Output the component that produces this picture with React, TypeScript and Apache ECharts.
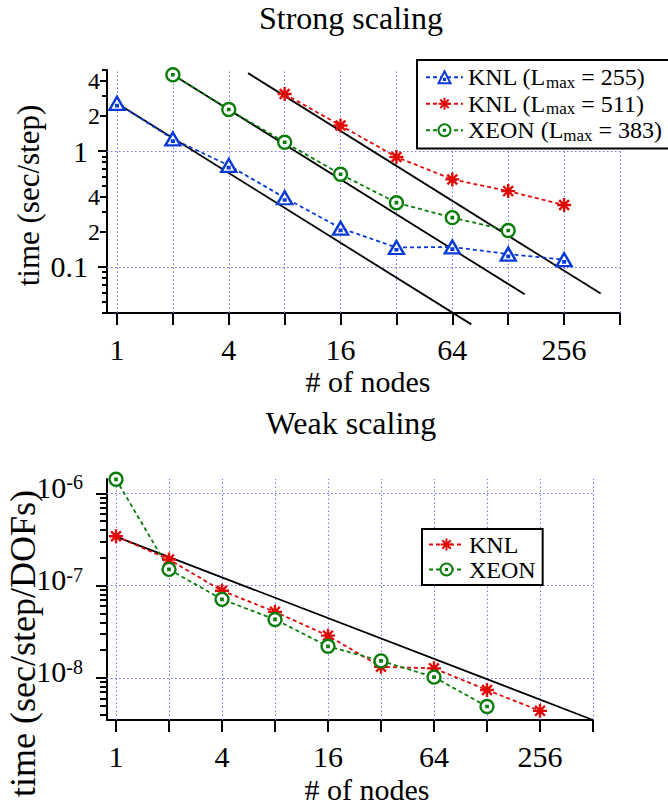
import React, { useEffect, useRef } from "react";
import * as echarts from "echarts";

// ---------- data ----------
const strongNodesKnl255 = [1, 2, 4, 8, 16, 32, 64, 128, 256];
const strongKnl255 = [2.58, 1.27, 0.75, 0.395, 0.216, 0.147, 0.1485, 0.129, 0.1155];
const strongNodesKnl511 = [8, 16, 32, 64, 128, 256];
const strongKnl511 = [3.1, 1.66, 0.888, 0.569, 0.451, 0.342];
const strongNodesXeon = [2, 4, 8, 16, 32, 64, 128];
const strongXeon = [4.55, 2.28, 1.19, 0.63, 0.358, 0.266, 0.206];
// ideal-scaling reference lines [nodes, time]
const idealA = [[1, 2.58], [81, 0.0319]];
const idealB = [[2, 4.55], [157, 0.058]];
const idealC = [[5.08, 4.7], [403, 0.0588]];

const weakNodesKnl = [1, 2, 4, 8, 16, 32, 64, 128, 256];
const weakKnl = [3.43e-7, 1.92e-7, 8.8e-8, 5.2e-8, 2.87e-8, 1.32e-8, 1.27e-8, 7.4e-9, 4.4e-9];
const weakNodesXeon = [1, 2, 4, 8, 16, 32, 64, 128];
const weakXeon = [1.42e-6, 1.5e-7, 7.1e-8, 4.3e-8, 2.2e-8, 1.53e-8, 1.02e-8, 4.9e-9];
const weakIdeal = [[1, 3.4e-7], [512, 3.5e-9]];

// ticks
const xTickNodes = [1, 2, 4, 8, 16, 32, 64, 128, 256, 512];
const xLabelNodes = [1, 4, 16, 64, 256];
const strongMajor = [1, 0.1];
const strongLabeledMinor = [4, 2, 0.4, 0.2];
const strongMinor = [5, 3, 0.9, 0.8, 0.7, 0.6, 0.5, 0.3, 0.09, 0.08, 0.07, 0.06, 0.05, 0.04];
const strongRange = [0.04, 5];
const weakMajor = [1e-6, 1e-7, 1e-8];
const weakMinor = [
  9e-7, 8e-7, 7e-7, 6e-7, 5e-7, 4e-7, 3e-7, 2e-7,
  9e-8, 8e-8, 7e-8, 6e-8, 5e-8, 4e-8, 3e-8, 2e-8,
  9e-9, 8e-9, 7e-9, 6e-9, 5e-9, 4e-9,
];
const weakRange = [3.5e-9, 1.43e-6];

// ---------- style ----------
const FONT = "'Liberation Serif', 'Times New Roman', serif";
const BLUE = "#0b3bd6";
const RED = "#e00a0a";
const GREEN = "#0a7d0a";
const GRIDC = "#7070ff";

const TRI = "path://M6,0 L12,10.4 L0,10.4 Z M5.4,6.4 L6.6,6.4 L6.6,7.6 L5.4,7.6 Z";
const CIRC = "path://M0,6 A6,6 0 1,1 12,6 A6,6 0 1,1 0,6 Z M5.4,5.4 L6.6,5.4 L6.6,6.6 L5.4,6.6 Z";
const STAR = "path://M0,6 L12,6 M6,0 L6,12 M1.8,1.8 L10.2,10.2 M10.2,1.8 L1.8,10.2";

const lg2 = (n: number) => Math.log2(n);
const lg10 = (v: number) => Math.log10(v);
const pts = (ns: number[], vs: number[]) => ns.map((n, i) => [lg2(n), lg10(vs[i])]);
const pairPts = (p: number[][]) => p.map(([n, v]) => [lg2(n), lg10(v)]);

function gridMarks(majors: number[]) {
  return {
    silent: true,
    symbol: ["none", "none"],
    z: 1,
    label: { show: false },
    emphasis: { disabled: true },
    lineStyle: { color: GRIDC, type: [1.5, 2.5], width: 1 },
    data: [
      ...xTickNodes.map((n) => ({ xAxis: lg2(n) })),
      ...majors.map((v) => ({ yAxis: lg10(v) })),
    ],
  };
}

function dataSeries(name: string, xi: number, yi: number, d: number[][], color: string, symbol: string, size: any, marks?: any) {
  const s: any = {
    name,
    type: "line",
    xAxisIndex: xi,
    yAxisIndex: yi,
    data: d,
    color,
    symbol,
    symbolSize: size,
    showAllSymbol: true,
    clip: false,
    itemStyle: { color: symbol === STAR ? color : "#ffffff", borderColor: color, borderWidth: 2.4 },
    lineStyle: { color, width: 1.8, type: [4, 3] },
    z: 3,
  };
  if (marks) s.markLine = marks;
  return s;
}

function idealSeries(xi: number, yi: number, d: number[][]) {
  return {
    type: "line",
    xAxisIndex: xi,
    yAxisIndex: yi,
    data: d,
    symbol: "none",
    clip: false,
    silent: true,
    lineStyle: { color: "#000", width: 1.8 },
    z: 2,
  };
}

function xAxisCfg(gridIndex: number, min: number, nameGap: number, namePadLeft: number) {
  return {
    type: "value",
    gridIndex,
    min,
    max: lg2(512),
    axisLine: { show: true, onZero: false, lineStyle: { color: "#000", width: 2 } },
    axisTick: { show: true, customValues: xTickNodes.map(lg2), length: 12, lineStyle: { color: "#000", width: 2 } },
    axisLabel: {
      show: true,
      customValues: xLabelNodes.map(lg2),
      formatter: (v: number) => String(Math.round(Math.pow(2, v))),
      fontSize: 30,
      fontFamily: FONT,
      color: "#000",
      margin: 21,
    },
    splitLine: { show: false },
    name: "# of nodes",
    nameLocation: "middle",
    nameGap,
    nameMoveOverlap: false,
    nameTextStyle: { fontSize: 30, fontFamily: FONT, color: "#000", padding: [0, 0, 0, namePadLeft] },
  };
}

function yBase(gridIndex: number, range: number[]) {
  return {
    type: "value",
    gridIndex,
    position: "left",
    offset: 0,
    min: lg10(range[0]),
    max: lg10(range[1]),
    splitLine: { show: false },
  };
}

export default function App() {
  const ref = useRef<HTMLDivElement>(null);
  useEffect(() => {
    if (!ref.current) return;
    const chart = echarts.init(ref.current, undefined, { renderer: "svg" });
    const fmtSig = (v: number) => {
      const x = Math.pow(10, v);
      return String(Number(x.toPrecision(2)));
    };
    const fmtDigit = (v: number) => {
      const x = Math.pow(10, v);
      return String(Math.round(x / Math.pow(10, Math.floor(v + 1e-9))));
    };
    const option: any = {
      animation: false,
      backgroundColor: "#ffffff",
      title: [
        { text: "Strong scaling", left: 351, top: 2, textAlign: "center", padding: 0, textStyle: { fontSize: 32, fontWeight: "normal", fontFamily: FONT, color: "#000" } },
        { text: "Weak scaling", left: 351, top: 407, textAlign: "center", padding: 0, textStyle: { fontSize: 32, fontWeight: "normal", fontFamily: FONT, color: "#000" } },
      ],
      grid: [
        { left: 107, top: 70, width: 513, height: 243, outerBoundsMode: "none", containLabel: false },
        { left: 107, top: 479, width: 486, height: 241, outerBoundsMode: "none", containLabel: false },
      ],
      legend: [
        {
          orient: "vertical",
          left: 417,
          top: 60,
          data: ["KNL (Lmax = 255)", "KNL (Lmax = 511)", "XEON (Lmax = 383)"],
          formatter: (name: string) => name.replace("Lmax", "L{sub|max}"),
          itemWidth: 37,
          itemHeight: 15,
          itemGap: 0,
          padding: [4, 12, 5, 8],
          backgroundColor: "#ffffff",
          borderColor: "#000",
          borderWidth: 2,
          borderRadius: 0,
          z: 10,
          textStyle: {
            fontSize: 24,
            fontFamily: FONT,
            color: "#000",
            lineHeight: 26.5,
            rich: { sub: { fontSize: 17, fontFamily: FONT, color: "#000", verticalAlign: "bottom", lineHeight: 14 } },
          },
        },
        {
          orient: "vertical",
          left: 422,
          top: 529,
          data: ["KNL", "XEON"],
          itemWidth: 35,
          itemHeight: 15,
          itemGap: 0,
          padding: [3, 7, 3, 6],
          backgroundColor: "#ffffff",
          borderColor: "#000",
          borderWidth: 2,
          borderRadius: 0,
          z: 10,
          textStyle: { fontSize: 24, fontFamily: FONT, color: "#000", lineHeight: 25 },
        },
      ],
      xAxis: [xAxisCfg(0, -10 / 56, 53, 9), xAxisCfg(1, -9 / 53, 54, 34)],
      yAxis: [
        {
          ...yBase(0, strongRange),
          axisLine: { show: true, onZero: false, lineStyle: { color: "#000", width: 2 } },
          axisTick: { show: true, customValues: strongMajor.map(lg10), length: 9, lineStyle: { color: "#000", width: 2 } },
          axisLabel: { show: true, customValues: strongMajor.map(lg10), formatter: fmtSig, fontSize: 30, fontFamily: FONT, color: "#000", margin: 19 },
          name: "time (sec/step)",
          nameLocation: "middle",
          nameRotate: 90,
          nameGap: 63,
          nameMoveOverlap: false,
          nameTextStyle: { fontSize: 31, fontFamily: FONT, color: "#000", padding: [0, 8, 0, 0] },
        },
        {
          ...yBase(0, strongRange),
          axisLine: { show: false, onZero: false },
          axisTick: { show: true, customValues: strongLabeledMinor.map(lg10), length: 7, lineStyle: { color: "#000", width: 2 } },
          axisLabel: { show: true, customValues: strongLabeledMinor.map(lg10), formatter: fmtDigit, fontSize: 24, fontFamily: FONT, color: "#000", margin: 7 },
        },
        {
          ...yBase(0, strongRange),
          axisLine: { show: false, onZero: false },
          axisTick: { show: true, customValues: strongMinor.map(lg10), length: 5, lineStyle: { color: "#000", width: 2 } },
          axisLabel: { show: false },
        },
        {
          ...yBase(1, weakRange),
          axisLine: { show: true, onZero: false, lineStyle: { color: "#000", width: 2 } },
          axisTick: { show: true, customValues: weakMajor.map(lg10), length: 11, lineStyle: { color: "#000", width: 2 } },
          axisLabel: {
            show: true,
            customValues: weakMajor.map(lg10),
            formatter: (v: number) => "{b|10}{s|" + String(Math.round(v)) + "}",
            margin: 24,
            padding: [0, 0, 12, 0],
            rich: {
              b: { fontSize: 30, fontFamily: FONT, color: "#000" },
              s: { fontSize: 20, fontFamily: FONT, color: "#000", verticalAlign: "top" },
            },
          },
          name: "time (sec/step/DOFs)",
          nameLocation: "middle",
          nameRotate: 90,
          nameGap: 66,
          nameMoveOverlap: false,
          nameTextStyle: { fontSize: 36, fontFamily: FONT, color: "#000", padding: [0, 88, 0, 0] },
        },
        {
          ...yBase(1, weakRange),
          axisLine: { show: false, onZero: false },
          axisTick: { show: true, customValues: weakMinor.map(lg10), length: 7, lineStyle: { color: "#000", width: 2 } },
          axisLabel: { show: false },
        },
      ],
      series: [
        dataSeries("KNL (Lmax = 255)", 0, 0, pts(strongNodesKnl255, strongKnl255), BLUE, TRI, [15, 13], gridMarks(strongMajor)),
        dataSeries("KNL (Lmax = 511)", 0, 0, pts(strongNodesKnl511, strongKnl511), RED, STAR, 14),
        dataSeries("XEON (Lmax = 383)", 0, 0, pts(strongNodesXeon, strongXeon), GREEN, CIRC, 13),
        idealSeries(0, 0, pairPts(idealA)),
        idealSeries(0, 0, pairPts(idealB)),
        idealSeries(0, 0, pairPts(idealC)),
        dataSeries("KNL", 1, 3, pts(weakNodesKnl, weakKnl), RED, STAR, 14, gridMarks(weakMajor)),
        dataSeries("XEON", 1, 3, pts(weakNodesXeon, weakXeon), GREEN, CIRC, 13),
        idealSeries(1, 3, pairPts(weakIdeal)),
      ],
    };
    chart.setOption(option);
    return () => chart.dispose();
  }, []);
  return <div ref={ref} style={{ position: "fixed", left: 0, top: 0, width: 668, height: 805 }} />;
}
